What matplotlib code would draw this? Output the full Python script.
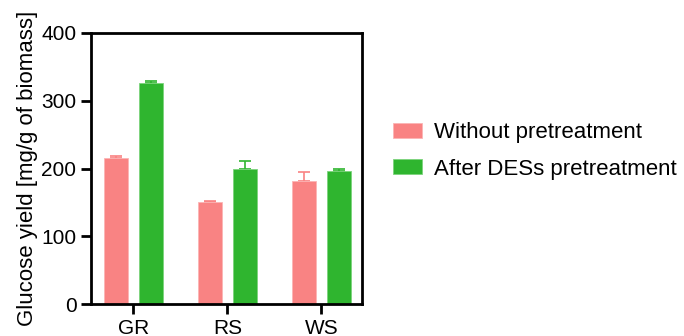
import numpy as np
import matplotlib
matplotlib.use("Agg")
import matplotlib.pyplot as plt

plt.rcParams['font.family'] = ['Liberation Sans', 'DejaVu Sans']

# Glucose yield per biomass, mean and upper error
biomass = ["GR", "RS", "WS"]
without_pre = [215, 150.5, 181.5]
without_err = [4, 1, 14]
after_des = [325.5, 200, 196]
after_err = [3.5, 11, 3.5]

red = "#F98383"
green = "#2FB52F"

fig = plt.figure(figsize=(6.84, 3.36), dpi=100)
ax = fig.add_axes([0.133, 0.095, 0.396, 0.807])

x = np.arange(len(biomass))
w = 0.255
off = 0.185

ax.bar(x - off, without_pre, w, color=red, edgecolor="#FBB5B5", linewidth=0.6,
       label="Without pretreatment", zorder=2)
ax.bar(x + off, after_des, w, color=green, edgecolor="#7CD47C", linewidth=0.6,
       label="After DESs pretreatment", zorder=2)
ax.errorbar(x - off, without_pre, yerr=[np.zeros(3), without_err], fmt="none",
            ecolor=red, elinewidth=1.2, capsize=4.5, capthick=1.2, zorder=1)
ax.errorbar(x + off, after_des, yerr=[np.zeros(3), after_err], fmt="none",
            ecolor=green, elinewidth=1.2, capsize=4.5, capthick=1.2, zorder=1)

ax.set_xlim(-0.45, 2.43)
ax.set_ylim(0, 400)
ax.set_yticks([0, 100, 200, 300, 400])
ax.set_xticks(x)
ax.set_xticklabels(biomass)
ax.set_ylabel("Glucose yield [mg/g of biomass]", fontsize=16, labelpad=2)

for s in ax.spines.values():
    s.set_linewidth(2)
ax.tick_params(width=2, length=7.5, labelsize=15, pad=3)

ax.legend(loc="center left", bbox_to_anchor=(1.04, 0.565), frameon=False,
          fontsize=16, handlelength=1.3, handleheight=0.65,
          labelspacing=0.7, handletextpad=0.55)

fig.savefig("out.png", dpi=100)
